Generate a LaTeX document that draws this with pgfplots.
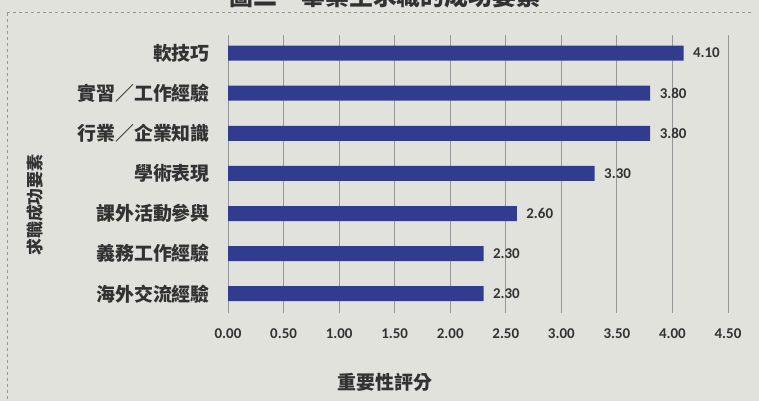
\documentclass[border=0pt]{standalone}
\usepackage{fontspec}
\setmainfont{Noto Sans CJK TC}
\newfontfamily\numfont{Carlito}
\usepackage{pgfplots}
\pgfplotsset{compat=1.18}
\definecolor{paper}{RGB}{226,226,221}
\definecolor{barblue}{RGB}{50,60,142}
\definecolor{txt}{RGB}{50,50,50}
\definecolor{gridc}{RGB}{150,150,150}

\begin{document}
\begin{tikzpicture}[x=1bp,y=1bp]
  \fill[paper] (0,0) rectangle (759,401);
  % title, cut off by the top edge as in the scan
  \node[anchor=base, text=txt, font=\bfseries\fontsize{24}{24}\selectfont] at (385,395) {圖二　畢業生求職的成功要素};
  \draw[gridc, dashed, line width=1bp] (7,388) -- (753,388);
  \draw[gridc, dashed, line width=1bp] (7,388) -- (7,0);

  \begin{axis}[
      at={(228bp,88bp)}, anchor=south west,
      width=500bp, height=278bp, scale only axis,
      xbar, bar width=15bp,
      xmin=0, xmax=4.5, ymin=-0.48, ymax=6.45,
      xtick={0,0.5,1,1.5,2,2.5,3,3.5,4,4.5},
      ytick={0,1,2,3,4,5,6},
      yticklabels={海外交流經驗,義務工作經驗,課外活動參與,學術表現,行業／企業知識,實習／工作經驗,軟技巧},
      xmajorgrids, ymajorgrids=false,
      grid style={gridc, line width=1bp},
      axis line style={draw=none},
      major tick length=0,
      /pgf/number format/assume math mode=true,
      /pgf/number format/.cd, fixed, fixed zerofill, precision=2, /pgfplots/.cd,
      xticklabel style={font=\numfont\bfseries\fontsize{15}{15}\selectfont, text=txt, yshift=-12bp},
      yticklabel style={font=\bfseries\fontsize{19}{19}\selectfont, text=txt, inner sep=0pt, xshift=-18bp},
      xlabel={重要性評分},
      xlabel style={at={(rel axis cs:0.314,0)}, anchor=center, yshift=-69bp, font=\bfseries\fontsize{19}{19}\selectfont, text=txt},
      nodes near coords,
      point meta=x,
      every node near coord/.append style={anchor=west, xshift=6bp, font=\numfont\bfseries\fontsize{15}{15}\selectfont, text=txt},
    ]
    \addplot[fill=barblue, draw=none] coordinates {
      (2.30,0) (2.30,1) (2.60,2) (3.30,3) (3.80,4) (3.80,5) (4.10,6)
    };
  \end{axis}
  \node[rotate=90, text=txt, font=\bfseries\fontsize{17}{17}\selectfont] at (35,196) {求職成功要素};
  \pgfresetboundingbox
  \path[use as bounding box] (0,0) rectangle (759,401);
\end{tikzpicture}
\end{document}
